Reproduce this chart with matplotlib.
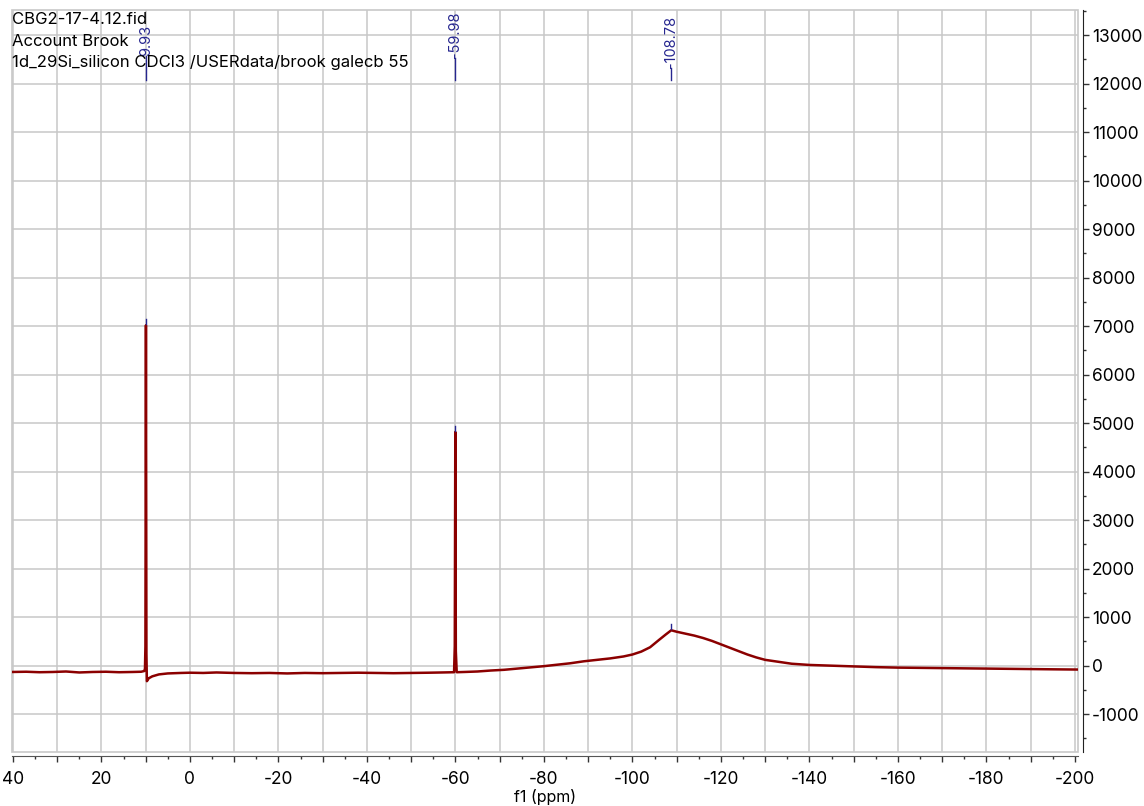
import matplotlib
matplotlib.use("Agg")
import matplotlib.pyplot as plt
from matplotlib.patches import Rectangle
from matplotlib.ticker import MultipleLocator, FuncFormatter
import matplotlib.transforms as mtransforms

plt.rcParams['font.family'] = ['Inter', 'DejaVu Sans']
plt.rcParams['axes.unicode_minus'] = False

# spectrum (ppm, intensity)
ppm = [40.2, 37, 34, 31, 28, 25, 22, 19, 16, 13, 11, 10.3, 10.15, 10.05, 9.93,
       9.82, 9.72, 9.3, 8.5, 7, 5, 2, 0, -3, -6, -10, -14, -18, -22, -26, -30,
       -34, -38, -42, -46, -50, -54, -57, -59.7, -59.86, -59.98, -60.1, -60.3,
       -62, -65, -68, -71, -74, -77, -80, -83, -86, -89, -92, -95, -98, -100,
       -102, -104, -106, -107.5, -108.78, -110, -112, -114, -116, -118, -120,
       -122, -124, -126, -128, -130, -133, -136, -140, -145, -150, -155, -160,
       -165, -170, -175, -180, -185, -190, -195, -200.7]
intensity = [-130, -125, -135, -130, -120, -140, -130, -125, -135, -130, -125,
             -110, -60, 400, 7020, 250, -320, -260, -220, -180, -160, -150, -145,
             -150, -140, -150, -155, -150, -160, -150, -155, -150, -145, -150,
             -155, -150, -145, -140, -135, 400, 4820, 300, -135, -130, -120,
             -100, -85, -60, -35, -10, 20, 50, 90, 120, 150, 190, 230, 290, 380,
             530, 640, 730, 700, 660, 620, 570, 510, 440, 370, 300, 230, 170,
             120, 80, 40, 15, 0, -15, -30, -40, -45, -50, -55, -60, -65, -70,
             -75, -80]

# peak labels (ppm, label, text bottom in px from figure top, peak top)
peak_ppm = [9.93, -59.98, -108.78]
peak_labels = ["9.93", "-59.98", "-108.78"]
peak_text_px = [56, 58, 68]
peak_tops = [7020, 4820, 730]

header = ["CBG2-17-4.12.fid", "Account Brook",
          "1d_29Si_silicon CDCl3 /USERdata/brook galecb 55"]

W, H = 1144, 806
fig = plt.figure(figsize=(W / 100, H / 100), dpi=100)
ax_left, ax_right, ax_top, ax_bot = 12, 1078, 10, 752
ax = fig.add_axes([ax_left / W, 1 - ax_bot / H, (ax_right - ax_left) / W,
                   (ax_bot - ax_top) / H])

grid_c = '#c8c8c8'
blue = '#26268f'
ax.plot(ppm, intensity, color='#8b0000', lw=1.8, zorder=3)

ax.set_xlim(40.2, -200.7)
ax.set_ylim(-1780, 13520)

# axes styling
for s in ['left', 'top']:
    ax.spines[s].set_visible(False)
ax.spines['right'].set_position(('outward', 3.6))
ax.spines['bottom'].set_position(('outward', 2.9))
ax.spines['right'].set_color('#222222')
ax.spines['bottom'].set_color('#555555')
ax.add_patch(Rectangle((0, 0), 1, 1, transform=ax.transAxes, fill=False,
                       ec=grid_c, lw=1.2, clip_on=False, zorder=1))

ax.yaxis.tick_right()
ax.yaxis.set_major_locator(MultipleLocator(1000))
ax.yaxis.set_minor_locator(MultipleLocator(500))
ax.xaxis.set_major_locator(MultipleLocator(10))
ax.xaxis.set_minor_locator(MultipleLocator(5))
ax.xaxis.set_major_formatter(FuncFormatter(
    lambda v, p: f"{v:.0f}" if round(v) % 20 == 0 else ""))
ax.tick_params(axis='both', which='major', labelsize=12.5, length=4.5,
               width=1, color='#333333', direction='out')
ax.tick_params(axis='both', which='minor', length=2.5, width=1,
               color='#333333', direction='out')
ax.tick_params(axis='y', pad=2)
ax.tick_params(axis='x', pad=6)
ax.grid(True, which='major', color=grid_c, lw=1.1)
ax.set_axisbelow(True)

ax.set_xlabel("f1 (ppm)", fontsize=11.5, labelpad=1)

# peak annotations
trans = mtransforms.blended_transform_factory(ax.transData, ax.transAxes)
line_bottom = 1 - (80 - ax_top) / (ax_bot - ax_top)
for x, lab, tpx, top in zip(peak_ppm, peak_labels, peak_text_px, peak_tops):
    ty = 1 - (tpx - ax_top) / (ax_bot - ax_top)
    ax.plot([x, x], [line_bottom, ty], color=blue, lw=1, transform=trans,
            clip_on=False, zorder=4)
    ax.text(x, ty, lab, rotation=90, ha='center', va='bottom', color=blue,
            fontsize=10.5, transform=trans, clip_on=False)
    ax.plot([x, x], [top + 20, top + 120], color=blue, lw=1, zorder=4)

for i, line in enumerate(header):
    fig.text(12 / W, 1 - (20 + 21.5 * i) / H, line, fontsize=12,
             va='center', ha='left')

fig.savefig("out.png", dpi=100)
